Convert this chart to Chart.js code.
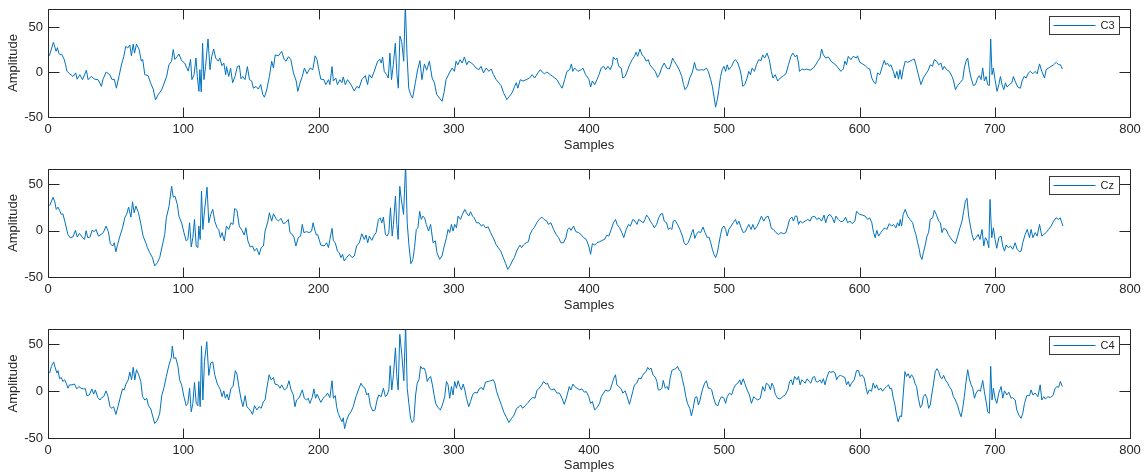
<!DOCTYPE html>
<html>
<head>
<meta charset="utf-8">
<script src="https://cdn.jsdelivr.net/npm/chart.js@4.4.1/dist/chart.umd.min.js"></script>
<style>
  html, body { margin: 0; padding: 0; background: #fff; overflow: hidden; }
  canvas { position: absolute; left: 0; }
</style>
</head>
<body>
<canvas id="chart0" width="1146" height="160" style="top:0px"></canvas>
<canvas id="chart1" width="1146" height="160" style="top:160px"></canvas>
<canvas id="chart2" width="1146" height="160" style="top:320px"></canvas>
<script>
// [sample, amplitude], turning points of each trace
const c3Points = [[1,18],[4,33],[6,23],[7,27],[8,21],[9,19],[10,20],[12,14],[13,8],[14,1],[16,-2],[18.5,-5],[20.5,-1],[21.5,-8],[23.5,-3],[25.5,-8.5],[28.4,2],[29.6,-8.5],[32,-5],[34.6,-8],[37,-8.5],[39.5,-16],[40.7,-8],[43,0],[45.7,-3],[47.4,-8.5],[49,-8],[50.6,-18],[52.6,-4],[54.3,8],[56,17],[57.5,28.5],[59,26.7],[60.5,30],[61.7,18],[63,31],[64,21],[65.4,31],[67.4,25],[69,12],[70,14],[71.6,-3],[74,-4],[75.8,-12],[77.8,-19],[79.5,-31],[81.5,-25],[84,-20],[85,-16],[87.7,-5],[89.4,8],[91.4,12],[92.6,25],[93.8,14],[95.5,17],[96.8,20],[98.8,12.6],[101,10],[103.7,1],[105.4,14],[106.4,-8.5],[108,-3],[109.4,15.5],[110.4,-5],[111.6,-21.5],[112.3,2.6],[113.3,-22],[114.3,32],[115.3,-8.5],[116.5,6],[118.3,36.7],[119.8,2.6],[121,17],[122.5,25.5],[124,15.5],[125.9,12],[127,15.5],[128.6,7],[130,10],[131.4,-3],[132,6],[133.6,-5],[135,4.4],[136.5,-12],[138.3,-5],[140,6],[141.5,7],[142.7,-7.5],[144,-5],[145.7,-8.5],[147.4,6],[149,-8.5],[150.6,-10],[151.9,-18],[153.8,-16],[155.5,-19],[157.3,-14],[158.8,-25],[160,-28],[161.7,-20],[163.7,-5],[165.4,12],[166.7,4.4],[168,19],[170.4,18],[172.8,23],[174.6,14],[176,12],[177.8,17],[179.5,14],[181.5,-1],[183.5,-10],[184.7,-21.5],[186.4,-12],[188,-5],[189.6,4.4],[191.4,-2],[193.8,4.4],[195.8,2.6],[197.5,18],[198.8,14],[200,4.4],
  [201.7,-8],[204,-8.5],[205.4,-14],[207.4,-8.5],[208.4,-14],[210,6],[211,-10],[212.8,-6.7],[214,-14],[215.8,-8.5],[217.3,-12],[218.3,-5.5],[219.8,-14],[221.5,-8.5],[224,-14],[226.4,-21],[228.4,-16],[230,-18],[232,-8.5],[234.6,-4],[236.3,-14],[237.5,-3],[239.3,-6.7],[241.2,0.7],[243.7,12],[245.4,14],[246.4,10],[247.4,16.7],[248.6,0.7],[250.4,-3],[251.6,-6.7],[252.8,21],[254,-8.5],[255.3,8],[256.8,32],[258,-3],[259,-18],[260.2,40],[261.5,34],[263,12],[264.2,75],[265.4,21],[266.7,-18],[268.1,-25],[269.6,-29],[271.6,-12],[273.3,2.6],[275,12.6],[276.5,-8.5],[278.3,9],[280,2],[282,12],[284,-6.7],[285.7,-12],[287.4,-25],[289.4,-29],[291.4,-32.6],[292.8,-23],[294.3,-8.5],[296.8,-1],[298.8,4.4],[300.5,0.7],[301.7,12],[303,8],[304.7,13.7],[306.2,10],[307.9,16.7],[309.6,8],[311,12],[314,9],[316.5,4.4],[318.5,2.6],[320.2,6.3],[322,-1],[324,4.4],[326,0.7],[327.7,3.3],[329.4,-3],[331.4,-8.5],[333.3,-12],[335,-15],[336.8,-23],[339.3,-30.7],[341.2,-27],[343.2,-23],[345,-16],[346.2,-12],[347.4,-18],[349.2,-8.5],[351.2,-10],[353.6,-8.5],[356,-6.7],[358,-3],[359.8,-6.7],[362.2,-1],[364,2.6],[365.4,0],[367,-2],[368.9,0],[371.4,-3],[373.3,-5],[376.3,-8.5],[378.3,-14],[380.2,-18],[382,-8.5],[383.7,0.7],[385.7,2.6],[387,9],[388,0.7],[389.4,4.4],[391.8,0.7],[394.3,2.6],[395.5,4.4],[397.5,-3],[399.3,-6.7],
  [400,-8.5],[401.2,-16.7],[402.5,-10],[404.2,-14],[405.9,-8.5],[407.4,-3],[409,4.4],[410.8,6.3],[412.3,2.6],[414,6.3],[415.7,2.6],[417.2,8],[418,16.7],[419.6,13.7],[420.6,15.5],[422,6.3],[423.8,4.4],[425,-6.7],[426.7,-5],[428.7,2.6],[430,8],[431.9,13.7],[433.6,17.4],[434.8,22],[436,17.4],[437.7,25.5],[439.2,19],[440.9,16.7],[442.2,12],[443.9,13.7],[445,8],[447,4.4],[449,0.7],[450.7,-6],[452,-3],[453.7,4.4],[455.6,10],[457.4,4.4],[459.3,3.3],[460.5,8],[461.8,15.5],[463,12],[464.7,8],[466.7,2.6],[468.6,-5],[469.9,-14],[471,-19.6],[472.8,-16],[474.5,-6.7],[476.5,0],[478,10.7],[479.4,2.6],[481.4,2],[483.3,2.6],[485,2],[486.8,4.4],[488.2,0.7],[490,-8.5],[491.2,-16],[492.4,-27],[493.6,-39],[494.9,-30.7],[496,-19.6],[497.3,-5],[498.5,2.6],[499.8,6.3],[501,0.7],[502.2,8],[503.4,2.6],[505.4,6.3],[507.1,12],[508.3,13.7],[510,10],[511.3,4.4],[512.5,-3],[513.7,-16],[515.2,-14],[516.9,-6.7],[518.1,0.7],[519.4,-3],[520.6,4.4],[522.3,0.7],[523.8,8],[525.5,13.7],[527.2,12.6],[528.4,19],[529.9,15.5],[531.6,21],[533.3,13.7],[534.8,0.7],[536,-6.7],[537.7,-3],[539.5,-10],[541.4,-6.7],[543.9,-4],[545.6,-2],[547.5,8],[549.3,17.4],[550.7,21],[552.5,16.7],[553.7,19],[554.9,10],[555.6,0.7],[557.4,3.3],[559.3,2.6],[561,3.3],[563.5,2],[565.9,4.4],[567.6,8],[569.1,12],[570.8,15.5],[572,25.5],[573.3,19],[575,15.5],[577,16.7],[578.9,12],[580.6,10],[582.4,8],[584.3,4.4],[586.3,0.7],[588,3.3],[589.2,12],[590.4,8],[591.7,17.4],[593.6,13.7],[595.3,17.4],[597.8,15.5],
  [598.5,18],[600.2,10.7],[602.2,9],[604.2,7],[606,4.4],[607.6,3.3],[609.1,-6.7],[610.9,-12],[612,-13],[613.3,-1],[615,-3],[616.5,4.4],[618.3,13],[619.5,8],[620.7,10],[622,6.3],[623.2,8],[625,0.7],[626.4,-6.7],[627.6,0.7],[628.9,-8],[629.9,2.6],[631.1,-8],[632.3,2.6],[633.8,12],[635.6,10.7],[637.3,12],[639.3,13.7],[640.5,14.4],[641.7,8],[643.5,-3],[645.4,-14],[647.2,-6.7],[649.1,-2],[650.9,2],[652.3,8],[654,6.3],[655.3,13.7],[657,12],[658.5,8],[660.2,10],[661.5,2.6],[662.7,6.3],[664.4,2.6],[666.4,0.7],[668.4,-5],[669.6,-10],[670.9,-19.6],[672.6,-15],[674.3,-12],[676.3,-8.5],[677.5,4.4],[678.8,12],[680,15.5],[681.2,2.6],[682.5,-6.7],[684.2,-15],[685.7,-14],[687.4,-6.7],[688.6,-4],[689.9,-8.5],[691.1,4.4],[692.3,-10],[693.6,-5],[694.8,-14],[696,-15],[697,36.7],[698,-3],[699,4.4],[700.2,-8.5],[701.7,-21.5],[703,-14],[704.2,-5],[705.4,-14],[706.7,-19.6],[707.9,-12],[709.1,-16.7],[710.9,-14],[712.6,-12],[713.8,-5],[715,-10],[717,-16.7],[719,-18],[720.2,-10],[721.7,-5],[723.2,-6.7],[724.9,-1],[726.4,0.7],[728.1,-2],[729.9,0.7],[731.4,-2],[733.1,9],[734.8,0.7],[736.8,-6.7],[738,2.6],[739.8,4.4],[741.7,6.3],[743.5,8],[745.4,10.7],[747.2,8],[748.6,8],[750,3.3]];

const czPoints = [[1.2,27],[3.7,36],[4.9,32],[6.1,23],[7.4,25.5],[8.6,22],[9.8,17.6],[11,18.3],[12.7,8.6],[14.7,-4],[16.4,-7.5],[18.4,-6.8],[20.3,0.4],[21.6,-6.8],[23.3,-3],[25.2,-6.8],[27,-9.4],[28.2,0],[29.4,-7.5],[31.1,-6.8],[32.6,0.4],[34.3,-1],[35.5,1.4],[37.3,-5.8],[39.2,-4],[40.9,-2],[42.9,5],[44.6,-1],[46.1,-14],[47.8,-16.5],[49,-13],[50.2,-22.7],[51.5,-14.7],[53.2,-5.8],[55.1,3.2],[56.9,14.7],[58.1,17.6],[59.6,25.5],[61.3,14.7],[62.5,31.3],[63.7,19.4],[65,26.6],[66.9,19.4],[68.6,7.6],[70.3,-5.8],[72.3,-13],[73.5,-18.3],[75.2,-23.7],[77.2,-29],[78.9,-38],[80.9,-34.5],[82.6,-29],[84.6,-15.5],[86.3,-4],[87.5,14],[89.5,26.6],[91.4,48],[92.6,36.3],[93.9,37.4],[95.6,28.4],[96.8,15.8],[98.8,8.6],[100.5,-2],[102.2,-11],[103.4,-9.4],[104.7,8.6],[105.9,-17.6],[107.1,-7.5],[108.3,12.2],[109.6,-16.5],[110.8,-18.3],[111.5,5],[112.5,-9.4],[113.5,42.8],[114.5,1.4],[115.7,21],[117.6,47],[118.9,8.6],[120.3,17.6],[121.8,23],[123.3,10.4],[125,3.2],[126.2,1.4],[127.5,-7.5],[128.7,-2],[130.4,-11],[131.9,5],[133.6,1.4],[135.3,8.6],[136.8,6.8],[138,24],[139.7,22],[141.4,5],[143.4,0.4],[145.1,-4.7],[146.3,3.2],[147.8,-11],[149.5,-17.6],[151.2,-16.5],[152.7,-22],[154.4,-19],[156.1,-26],[157.6,-18.3],[159.3,-16.5],[160.5,-0.4],[162.5,9.7],[163.7,19.4],[165.4,10.4],[166.7,18.3],[168.6,13],[170.3,10.4],[172.3,13.3],[174,7.6],[175.7,8.6],[177.7,12.2],[178.9,-2],[180.6,-4],[181.9,-7.5],[183.3,-16.5],[185,-7.5],[186.8,-5.8],[188,6.8],[189.2,-2],[191.2,-1],[193.1,-2],[194.9,-0.4],[196,8.6],[197.3,0.4],[198.5,-4.7],
  [199.3,-4],[201.7,-15.5],[204.2,-16.5],[206,-13],[207.4,-18.3],[208.4,-9.4],[210,2.5],[211,-11],[212.4,-13],[214,-22],[215.3,-23.7],[216.6,-29],[217.8,-25.5],[219,-32.7],[220.8,-29],[222.8,-25.5],[224.8,-29],[226.5,-27.3],[228.2,-16.5],[230.2,-13],[232,-3.2],[233.9,-9.4],[235.1,-4.7],[236.4,-13],[237.6,-5.8],[239.4,-10.4],[240.8,-5.8],[242.6,-2],[244.3,12.2],[245.5,14],[246.8,8.6],[248,14.7],[249.5,-4],[250.7,-5.8],[252,-2],[253.2,24.8],[254.5,-5.8],[255.4,6.8],[256.9,37.4],[257.9,6.8],[258.9,-9.4],[260.1,48],[261.4,32],[262.9,17.6],[264.4,72],[265.6,8.6],[266.8,-14.7],[268.3,-35.6],[269.8,-31],[271,-18.3],[272.3,1.4],[273.5,3.2],[274.8,21],[276,12.2],[277.2,15.8],[278.5,14],[279.7,6.8],[281.4,-0.4],[282.9,6.8],[284.7,-13],[286.4,-11],[287.6,-23.7],[289.6,-31],[291.3,-27.3],[293,-16.5],[294.6,-7.5],[295.8,1.4],[297,-2],[298.3,6.8],[299.5,-0.4],[300.7,6.8],[302,3.2],[303.2,15.8],[305,12.2],[306.4,17.6],[308.2,23],[309.4,19.4],[311.1,15.8],[312.4,20.5],[313.9,15.8],[315.1,14],[316.8,8.6],[318.6,8.6],[320.5,5],[321.8,6.8],[323.5,3.2],[325.5,4],[327.2,-2],[329.2,-7.5],[331.2,-14.7],[332.9,-18.3],[334.7,-22],[336.6,-29],[338.4,-35.6],[339.9,-41.7],[341.6,-38],[343.3,-32.7],[344.8,-29],[346.5,-22],[347.8,-18.3],[349,-15.5],[350.2,-18.3],[351.5,-15.5],[353.5,-13],[355.2,-11.9],[356.4,-4],[358.2,1.4],[359.4,3.2],[361.4,8.6],[363.1,12.2],[365.1,14.7],[366.8,12.2],[368.8,10.4],[370,6.8],[371.8,8.6],[373.8,1.4],[375.7,-4],[377.5,-7.5],[379.2,-13],[381.2,-13],[382.9,-7.5],[384.2,1.4],[385.6,3.2],[386.6,0.4],[388.6,5],[390.3,-1],[392.3,-2],[394,-4],[396,-7.5],[398,-9.4],[399.8,-16.5],
  [401.2,-25.5],[402.5,-14],[404.2,-15.5],[405.9,-13],[407.8,-11.9],[409.8,-10.4],[411.5,-9.4],[413.2,-4.7],[414.7,-5.8],[416.4,1.4],[418.1,8.6],[419.6,12.2],[420.8,6.8],[422.5,3.2],[424.3,-2],[425.7,-7.5],[427.5,1.4],[429.2,6.8],[430.6,5],[432.4,12.2],[434,10.4],[435.5,6.8],[436.8,12.2],[438.5,10.4],[440.2,8.6],[441.4,12.2],[442.6,16.9],[444.1,14],[445.3,10.4],[447,6.8],[448.3,3.2],[450,6.8],[451.5,14],[453.2,18.3],[454.4,18.3],[455.6,10.4],[457.4,8.6],[458.6,1.4],[460,3.2],[461.3,1.4],[462.3,10.4],[463.7,11.2],[465.4,6.8],[467.2,1.4],[469.1,-5.8],[470.3,-13],[471.6,-15.5],[473.3,-13],[474.8,-7.5],[476,-2],[477,1.4],[478.2,-8.3],[479.4,-4],[480.9,-1],[482.6,-2],[484.3,4],[485.8,-2],[487.5,-7.5],[488.7,-6.8],[490,-13],[491.2,-20],[492.4,-25.5],[493.6,-29],[494.9,-23.7],[496,-14.7],[497.3,-4],[498.5,3.2],[499.8,5],[501,1.4],[502.2,-5.8],[503.4,1.4],[505.1,5],[506.6,8.6],[508.3,12.2],[509.6,6.8],[510.8,10.4],[512.5,3.2],[514,-2],[515.7,-1],[516.9,3.2],[518.1,6.8],[519.9,1.4],[521.1,6.8],[522.5,1.4],[524.3,5],[526,10.4],[527.5,15.8],[529.2,10.4],[530.9,14.7],[532.4,15.8],[533.6,10.4],[534.8,2.5],[536.5,1.4],[538.2,-2],[540.2,-4],[541.9,-2],[543.9,-3.2],[545.6,-2],[547,5],[548.3,12.2],[550,14.7],[551.2,10.4],[552.5,15.8],[553.7,15.8],[554.9,6.8],[556.1,10.4],[557.8,8.6],[559.8,10.4],[561.8,12.2],[563.5,10.4],[564.7,14.7],[566.7,15.8],[568.4,12.2],[570.1,14],[572,10.4],[573.8,16.9],[575,8.6],[576.5,15.8],[578.2,17.6],[579.9,14],[581.4,8.6],[582.6,15.8],[584.3,12.2],[586,9.7],[588,10.4],[589.7,14.7],[591.2,8.6],[592.9,10.4],[594.6,7.6],[596.6,10.4],[597.8,21],
  [600.2,17.6],[602.2,16.9],[604.2,15.8],[606,12.2],[607.6,14],[609.1,8.6],[610.4,-2],[611.6,-7.5],[612.8,0.4],[614.1,-5.8],[615.8,-2],[617.5,1.4],[619,3.2],[620.2,1.4],[622,7.6],[623.7,5],[625.2,6.8],[626.9,3.2],[628.1,8.6],[629.4,5],[630.1,12.2],[631.1,5],[632.3,17.6],[633.8,23],[635.6,15.8],[637.3,12.2],[639.3,8.6],[640.5,1.4],[641.7,-4],[643,-13],[644.2,-20],[645,-27.3],[646.2,-31],[647.2,-23.7],[648.6,-15.5],[649.9,-5.8],[651.1,-2],[652.3,12.2],[654.1,14],[655.3,22],[657,16.9],[658.5,10.4],[659.8,8.6],[661,-2],[662.2,2.5],[664,1.4],[665.7,-4],[667.2,-7.5],[668.9,-11],[670.9,-14],[672.6,-5.8],[674.3,3.2],[675.8,10.4],[677,21],[678.3,32],[679.5,35],[680.7,15.8],[682,5],[683.2,-4],[684.4,-10.4],[686.2,-7.5],[687.7,-4],[689.1,-9.4],[690.6,1.4],[691.9,-16.5],[693.1,-7.5],[694.3,-10.4],[695.6,-18.3],[696.5,33.8],[697.8,-7.5],[699,3.2],[700.2,-9.4],[701.5,-19],[703,-7.5],[704.7,-5.8],[705.9,-16.5],[707.2,-22],[708.4,-15.5],[710.1,-18.3],[711.6,-16.5],[713.3,-20],[715.1,-13],[716.5,-20],[718.3,-22.7],[719.5,-22],[720.7,-13],[722.5,-4],[724,1.4],[725.7,-7.5],[726.9,1.4],[728.2,-7.5],[729.9,-2],[731.4,-5.8],[733.1,6.8],[734.8,-5.8],[736.3,-4],[738,-2],[739.8,1.4],[741.7,5],[743.5,10.4],[745.4,14],[747.2,12.2],[748.4,14],[750.4,5]];

const c4Points = [[1.2,19.4],[2.5,26.6],[4.2,31.3],[5.4,24.8],[6.6,19.4],[7.4,22],[8.6,13.3],[9.8,14.7],[11,10.4],[12.3,12.2],[13.5,8.6],[14.7,3.2],[15.9,6.8],[17.6,6.8],[19.6,7.6],[21.3,2.5],[22.8,5],[24.5,3.2],[26.2,2.5],[27.7,2.5],[28.7,-4.7],[30.6,-4],[32.4,2.5],[33.8,-3.2],[35,1.4],[36.8,-6.8],[38.5,-9.4],[39.7,-6.8],[41.2,-5.8],[42.9,0.4],[44.4,-5.8],[45.8,-16.5],[47.3,-18.3],[48.5,-16.5],[50.2,-24.8],[51.9,-15.5],[53.4,-6.8],[55.1,2.5],[56.4,1.4],[57.6,7.6],[59.3,12.2],[60.5,20.5],[61.8,12.2],[63,25.5],[64.2,12.2],[65.4,23],[66.9,18.3],[68.6,10.4],[69.9,-5.8],[71.6,-9.4],[73,-7.5],[74.3,-15.5],[76,-19],[77.2,-25.5],[78.9,-34.5],[80.9,-31],[82.6,-23.7],[84.1,-4.7],[85.8,4],[87.5,15.8],[89.5,28.4],[91.2,36.3],[91.9,48.2],[93.1,35],[94.4,36],[96.1,26.6],[97.3,12.2],[98.8,6.8],[100.5,-5.8],[102.2,-15.5],[103.4,-13],[104.7,3.2],[105.9,-22],[107.1,-13],[108.3,9.4],[109.6,-13],[110.8,-15.5],[111.5,10.4],[112.5,-16.5],[113.5,48.2],[114.5,-9.4],[115.7,32],[117.4,52.9],[118.9,16.9],[120.3,30.2],[121.8,31.3],[123.3,17.6],[125,8.6],[126.2,5],[127.5,1.4],[128.7,-5.8],[130,0.4],[131.1,-7.5],[132.4,-3.2],[133.6,-9.4],[135.3,3.2],[136.8,5],[138.5,22],[139.7,18.3],[140.9,6.8],[142.6,-7.5],[144.1,-16.5],[145.8,-4.7],[147,-16.5],[148.8,-19],[150.2,-22],[151.2,-24.8],[152.7,-15.5],[154.4,-20],[156.1,-16.5],[157.6,-18.3],[159.3,-11],[160.5,-9.4],[161.8,3.2],[163.5,17.6],[165,12.2],[166.7,14.7],[167.9,7.6],[169.9,6.8],[171.6,3.2],[172.8,6.8],[174.8,1.4],[176.5,3.2],[178.2,11.2],[179.7,1.4],[181.4,-4],[182.6,-16.5],[183.8,-9.4],[185.8,-6.8],[188,1.4],[189.5,-7.5],[191.2,-9.4],[192.4,-7.5],[193.6,-13],[195.3,-6.8],[196.6,2.5],[197.8,-7.5],[199,-3.2],
  [201.7,-11.9],[203.5,-7.5],[205.4,-4.7],[206.7,-2],[208.4,-6.8],[210,11.2],[211,-7.5],[212.4,-4.7],[213.4,-16.5],[214.6,-23.7],[216.1,-29],[217.3,-32.7],[218.3,-28.4],[219.3,-40],[220.8,-31],[222.3,-25.5],[224,-22],[225.7,-16.5],[227.7,-5.8],[229.5,1.4],[231.4,8.6],[232.7,5],[234.4,3.2],[235.6,-4],[236.9,-2],[238.4,-15.5],[240.1,-21],[241.8,-20],[243.3,-9.4],[244.6,-4],[246.3,-5.8],[248,3.2],[249.5,-5.8],[250.7,-4],[252,1.4],[253,27.3],[254.2,1.4],[255.4,17.6],[256.9,46.4],[257.9,15.8],[258.9,1.4],[260.1,60.8],[261.6,39.2],[263.1,11.2],[264.4,72],[265.6,3.2],[266.8,-13],[268.1,-29],[269.3,-33.5],[270.5,-31],[271.8,-4],[273,8.6],[274.3,12.2],[275.5,26.6],[276.7,24],[278,24.8],[279.2,21],[280.4,10.4],[281.7,14],[282.9,15.8],[284.2,6.8],[285.4,-3.2],[286.6,-13],[288.4,-17.6],[290.1,-20],[291.6,-14.7],[293.3,-5.8],[294.6,10.4],[295.8,6.8],[297,-7.5],[298.3,5],[299.5,-4],[300.7,10.4],[302,3.2],[303.2,11.2],[304.5,5],[305.7,1.4],[307,7.6],[308.2,1.4],[309.4,-7.5],[311.1,-16.5],[312.4,-11],[313.9,-4],[315.6,-1],[317.3,-2],[318.8,2.5],[320.5,4],[321.8,1.4],[323.5,9.7],[325.5,10.4],[327.2,11.2],[329.2,12.2],[330.4,8.6],[331.7,-0.4],[333.4,-7.5],[335.4,-15.5],[337.1,-22.7],[339.1,-28.4],[340.8,-33.5],[342.8,-29],[344.6,-25.5],[346.5,-18.3],[348.3,-16.5],[349.5,-14.7],[351,-18.3],[352.7,-15.5],[354.5,-13],[356.4,-9.4],[358.4,-6.8],[360.1,-7.5],[361.4,0.4],[363.1,3.2],[365.1,6.8],[366.3,10.4],[368.3,7.6],[369.3,8.6],[370.8,3.2],[372.5,1.4],[374.3,2.5],[376.2,-2],[378.2,-2],[380,-7.5],[381.7,-14],[383.2,-7.5],[384.2,-2],[385.4,5],[386.6,1.4],[388.1,7.6],[389.4,5],[391.1,3.2],[393.1,1.4],[394.8,2.5],[396.5,-1],[398,-0.4],[399.8,-5.8],
  [401.2,-13],[402.5,-11],[404.2,-20],[405.9,-17.6],[407.8,-13],[409.1,-5.8],[410.8,-2],[412.3,1.4],[414,0],[415.7,1.4],[417.2,8.6],[418.4,14],[419.6,17.6],[420.6,6.8],[422,5],[423.8,2.5],[425,-2],[426.7,0.4],[428.2,-5.8],[429.9,-14],[431.1,-7.5],[432.4,0],[433.6,6.8],[435.3,8.6],[436.8,14],[438.5,13.3],[439.7,17],[440.9,19.4],[442.2,21],[443.4,25.5],[444.6,23],[445.8,24.8],[447.5,17],[449,15],[450.2,10.4],[451.2,1.4],[452.7,1.4],[453.9,3.2],[454.9,11.5],[456.4,3.2],[457.6,5],[458.8,1.4],[460,14],[461.3,22.3],[463,23.4],[464.2,24.1],[465.4,26.6],[466.7,22.3],[467.9,21],[469.1,12.2],[470.3,5],[471.6,-5.8],[472.8,-13],[474.5,-18.3],[475.7,-26.3],[477,-18.3],[478.4,-6.8],[479.7,-5.8],[480.9,-14.7],[482.1,-9.4],[483.8,1.4],[485.5,8.6],[486.8,11.2],[488.2,3.2],[489.5,3.2],[490.7,1.4],[491.9,-5.8],[493.6,-14],[495.3,-15.5],[496.6,-9.4],[498,-5.8],[499.8,-7.5],[501,-13],[502.2,-5.8],[503.9,-2],[505.4,-4],[507.1,3.2],[508.3,6.8],[510,8.6],[511.5,12.2],[512.5,6.8],[514,13.3],[515.2,8.6],[516.9,1.4],[518.6,-4],[520.1,-13],[521.8,-5.8],[523,-7.5],[524.8,-9.4],[526.7,-7.5],[528.4,5],[529.9,0],[531.1,8.6],[532.8,6.8],[534.1,1.4],[535.3,8.6],[536.5,5],[537.7,-3.2],[539.5,-7.5],[541.4,-8.3],[543.1,-5.8],[545.1,-4],[547,1.4],[548.3,10.4],[549.5,12.2],[550.7,6.8],[552,15.8],[553.7,12.2],[554.9,15.8],[556.1,6.8],[557.4,12.2],[558.6,10.4],[559.8,8.6],[561.3,13.3],[562.7,10.4],[564,8.6],[565.4,14.7],[566.7,15.8],[567.9,10.4],[569.1,9.7],[570.8,12.2],[572,8.6],[573.3,13.3],[574.5,6.8],[575.7,14],[577.5,21],[578.9,20.2],[580.6,21],[581.9,19.4],[583.1,12.2],[584.3,15.8],[586,17],[587.5,15.8],[589.2,14.7],[590.4,6.8],[591.7,10.4],[592.9,5],[594.1,8.6],[596.1,12.2],[597.8,22],
  [599.3,22],[600.5,15.8],[601.7,17.6],[603.5,14],[604.7,5],[605.9,-3.2],[607.2,1.4],[608.9,0],[610.1,8.6],[611.6,3.2],[612.6,6.8],[614.1,1.4],[615.8,3.2],[617,0],[618.8,3.2],[620,5],[621.5,6.8],[622.5,2.5],[623.7,3.2],[624.9,-6.8],[626.2,-14.7],[627.4,-25.5],[628.6,-32.7],[629.9,-26.3],[631.1,-27.3],[632.3,-4],[633.6,21],[634.8,15.8],[636,18.7],[637.3,14],[638.5,17.6],[639.8,14.7],[641,8.6],[642.2,5],[643.5,-7.5],[645,-17.6],[646.2,-14.7],[647.2,-5.8],[648.6,-3.2],[649.9,-7.5],[651.1,-18.3],[652.3,-14.7],[653.6,-2],[654.8,8.6],[656,21],[657.3,24.1],[658.5,21],[659.8,15.1],[661,13.3],[662.2,17],[663.5,12.2],[665.2,8.6],[666.4,5],[668.1,1.4],[669.4,-5.8],[670.9,-9.4],[672.6,-15.5],[673.8,-22],[675.1,-27.3],[676.3,-18.3],[677.5,-5.8],[678.8,10.4],[680,23],[681.2,13.3],[682.5,6.8],[683.7,3.2],[685,-7.5],[686.2,-2],[687.9,1.4],[689.4,0],[691.1,11.5],[692.3,0],[693.6,-11],[694.8,-22],[696,-23.7],[697,26.6],[698,-9.4],[699,3.2],[700.2,-7.5],[701.5,-13],[703,-2],[704.7,5],[705.9,-7.5],[707.2,0.4],[708.9,-4],[710.4,-1],[712.1,-7.5],[713.3,-6.8],[715.1,-9.4],[716.3,-20],[717.8,-25.5],[719.5,-29],[720.7,-23.7],[722,-13],[723.7,-4.7],[725.7,-4.7],[726.9,1.4],[728.2,-4],[729.9,-2],[731.9,-5.8],[733.6,6.8],[734.8,-9.4],[736.3,-5.8],[737.5,-8.3],[739.3,-5.8],[741,-6.8],[743,-4.7],[744.7,3.2],[746,5],[747.2,4],[748.5,10.4],[750,5]];

const channelNames = ['C3', 'Cz', 'C4'];
const channelPoints = [c3Points, czPoints, c4Points];
const yLimits = [[-50, 70], [-50, 66.7], [-50, 66.5]];
const xTickValues = [0, 100, 200, 300, 400, 500, 600, 700, 800];
const yTickValues = [-50, 0, 50];

const axisColor = '#262626';
const lineColor = '#0072BD';
const fontFamily = "'Liberation Sans', Arial, Helvetica, sans-serif";

// chart area bottom inside each 160px canvas
const areaBottoms = [117, 117, 118];

// matlab style box, inward ticks on all four sides and the legend box
const matlabFrame = {
    id: 'matlabFrame',
    afterDatasetsDraw(chart, args, opts) {
        const { ctx, chartArea: a, scales } = chart;
        const L = Math.round(a.left) + 0.5, R = Math.round(a.right) + 0.5;
        const T = Math.round(a.top) + 0.5, B = Math.round(a.bottom) + 0.5;
        ctx.save();
        ctx.strokeStyle = axisColor;
        ctx.lineWidth = 1;
        ctx.beginPath();
        ctx.rect(L, T, R - L, B - T);
        xTickValues.forEach(v => {
            const px = Math.round(scales.x.getPixelForValue(v)) + 0.5;
            ctx.moveTo(px, B); ctx.lineTo(px, B - 10);
            ctx.moveTo(px, T); ctx.lineTo(px, T + 10);
        });
        yTickValues.forEach(v => {
            const py = Math.round(scales.y.getPixelForValue(v)) + 0.5;
            ctx.moveTo(L, py); ctx.lineTo(L + 11, py);
            ctx.moveTo(R, py); ctx.lineTo(R - 11, py);
        });
        ctx.stroke();

        // legend
        const bw = 70, bh = 18;
        const bx = Math.round(a.right - 11 - bw) + 0.5;
        const by = Math.round(a.top + 6.5) + 0.5;
        ctx.fillStyle = '#fff';
        ctx.fillRect(bx, by, bw, bh);
        ctx.strokeStyle = '#3a3a3a';
        ctx.strokeRect(bx, by, bw, bh);
        ctx.strokeStyle = lineColor;
        ctx.beginPath();
        ctx.moveTo(bx + 4, by + bh / 2);
        ctx.lineTo(bx + 46, by + bh / 2);
        ctx.stroke();
        ctx.fillStyle = axisColor;
        ctx.font = '11px ' + fontFamily;
        ctx.textBaseline = 'middle';
        ctx.fillText(opts.label, bx + 51, by + bh / 2 + 0.5);
        ctx.restore();
    }
};

channelNames.forEach((name, i) => {
    const canvas = document.getElementById('chart' + i);
    new Chart(canvas, {
        type: 'line',
        data: {
            datasets: [{
                label: name,
                data: channelPoints[i].map(p => ({ x: p[0], y: p[1] })),
                borderColor: lineColor,
                borderWidth: 1,
                pointRadius: 0,
                pointHoverRadius: 0,
                tension: 0,
                fill: false
            }]
        },
        options: {
            responsive: false,
            animation: false,
            devicePixelRatio: 1,
            layout: { autoPadding: false, padding: { left: 0, right: 16, top: 9, bottom: 0 } },
            plugins: {
                legend: { display: false },
                tooltip: { enabled: false },
                matlabFrame: { label: name }
            },
            scales: {
                x: {
                    type: 'linear',
                    min: 0,
                    max: 800,
                    afterBuildTicks: s => { s.ticks = xTickValues.map(v => ({ value: v })); },
                    afterFit: s => { s.height = 160 - areaBottoms[i]; s.paddingLeft = 0; s.paddingRight = 0; },
                    grid: { display: false, drawTicks: false },
                    border: { display: false },
                    ticks: {
                        padding: 5,
                        color: axisColor,
                        font: { family: fontFamily, size: 13 },
                        maxRotation: 0,
                        autoSkip: false
                    },
                    title: {
                        display: true,
                        text: 'Samples',
                        color: axisColor,
                        font: { family: fontFamily, size: 13 },
                        padding: { top: 0, bottom: 7 }
                    }
                },
                y: {
                    type: 'linear',
                    min: yLimits[i][0],
                    max: yLimits[i][1],
                    afterBuildTicks: s => { s.ticks = yTickValues.map(v => ({ value: v })); },
                    afterFit: s => { s.width = 48; s.paddingTop = 0; s.paddingBottom = 0; },
                    grid: { display: false, drawTicks: false },
                    border: { display: false },
                    ticks: {
                        padding: 5,
                        color: axisColor,
                        font: { family: fontFamily, size: 13 }
                    },
                    title: {
                        display: true,
                        text: 'Amplitude',
                        color: axisColor,
                        font: { family: fontFamily, size: 13 },
                        padding: { top: 6, bottom: 0 }
                    }
                }
            }
        },
        plugins: [matlabFrame]
    });
});
</script>
</body>
</html>
